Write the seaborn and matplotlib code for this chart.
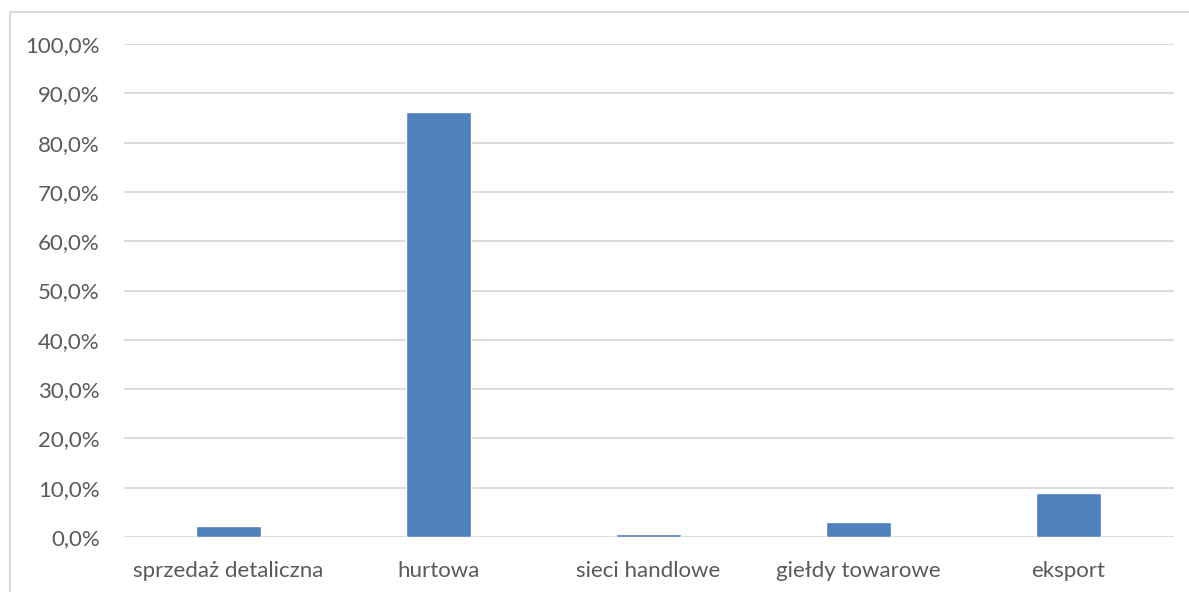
import matplotlib
matplotlib.use("Agg")
import matplotlib.pyplot as plt
import seaborn as sns
import pandas as pd
from matplotlib.ticker import FuncFormatter
from matplotlib.patches import Rectangle

# dane
kanaly = ["sprzedaż detaliczna", "hurtowa", "sieci handlowe", "giełdy towarowe", "eksport"]
udzialy = [2.2, 86.2, 0.6, 3.0, 8.9]

df = pd.DataFrame({"kanal": kanaly, "udzial": udzialy})

sns.set_style("white")
plt.rcParams["font.family"] = ["Lato", "DejaVu Sans"]

fig = plt.figure(figsize=(11.89, 5.92), dpi=100)
ax = fig.add_axes([123.5 / 1189, 1 - 537 / 592, 1050 / 1189, 493 / 592])

sns.barplot(data=df, x="kanal", y="udzial", color="#4F81BD", saturation=1,
            width=0.31, ax=ax, zorder=3)

ax.set_ylim(0, 100)
ax.set_xlim(-0.5, len(kanaly) - 0.5)
ax.set_yticks(range(0, 101, 10))
ax.yaxis.set_major_formatter(FuncFormatter(lambda v, p: f"{v:.1f}%".replace(".", ",")))
ax.grid(axis="y", color="#D9D9D9", linewidth=1.3, zorder=0)
ax.set_axisbelow(True)
for s in ax.spines.values():
    s.set_visible(False)
ax.tick_params(axis="both", length=0, labelsize=16, colors="#595959")
ax.tick_params(axis="y", pad=17)
ax.tick_params(axis="x", pad=17)
ax.set_xlabel("")
ax.set_ylabel("")

# ramka wykresu
fig.patches.append(Rectangle((10 / 1189, -0.1), 1.2, 1 - 12 / 592 + 0.1,
                             transform=fig.transFigure, fill=False,
                             edgecolor="#D9D9D9", linewidth=1.5))

fig.savefig("out.png", dpi=100)
plt.close()
